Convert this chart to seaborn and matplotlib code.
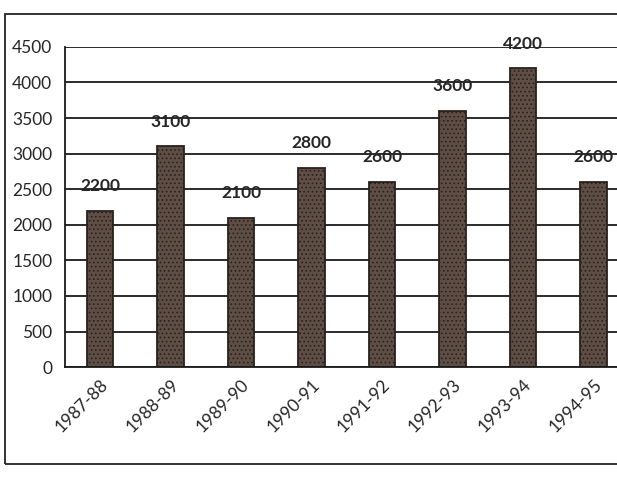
import matplotlib
matplotlib.use("Agg")
import matplotlib.pyplot as plt
import matplotlib.patches as patches
import numpy as np
import pandas as pd
import seaborn as sns

# Dane
years = ["1987-88", "1988-89", "1989-90", "1990-91", "1991-92", "1992-93", "1993-94", "1994-95"]
values = [2200, 3100, 2100, 2800, 2600, 3600, 4200, 2600]
y_ticks = [0, 500, 1000, 1500, 2000, 2500, 3000, 3500, 4000, 4500]

sns.set_style("white")
plt.rcParams['font.family'] = ['Lato', 'DejaVu Sans']
plt.rcParams['hatch.color'] = '#c9baa8'
plt.rcParams['hatch.linewidth'] = 0.7

data = pd.DataFrame({'year': years, 'value': values})

fig = plt.figure(figsize=(6.17, 4.78), dpi=100)
ax = fig.add_axes([0.105, 0.232, 0.914, 0.670])

sns.barplot(data=data, x='year', y='value', color='#5e4e45', width=0.37,
            edgecolor='#2a211c', linewidth=1.3, saturation=1, ax=ax)
for bar in ax.patches:
    bar.set_hatch('....')

ax.set_ylim(0, 4500)
ax.set_xlim(-0.5, len(years) - 0.5)
ax.set_yticks(y_ticks)
ax.yaxis.grid(True, color='#1a1a1a', linewidth=1.3)
ax.set_axisbelow(True)
ax.set_xlabel('')
ax.set_ylabel('')

for side in ['top', 'right']:
    ax.spines[side].set_visible(False)
ax.spines['left'].set_color('#1a1a1a')
ax.spines['bottom'].set_color('#1a1a1a')
ax.spines['left'].set_linewidth(1.3)
ax.spines['bottom'].set_linewidth(1.3)

ax.tick_params(axis='y', length=8, width=1.3, color='#1a1a1a', labelsize=12.5, pad=1)
ax.tick_params(axis='x', which='major', length=0, labelsize=12.5, pad=7)
ax.set_xticks(np.arange(len(years) + 1) - 0.5, minor=True)
ax.tick_params(axis='x', which='minor', length=6, width=1.3, color='#1a1a1a')
plt.setp(ax.get_xticklabels(), rotation=45, ha='right', rotation_mode='anchor')

ax.bar_label(ax.containers[0], labels=[str(v) for v in values],
             fontweight='bold', fontsize=12.5, padding=12)

# Ramka wokół wykresu
frame = patches.Rectangle((0.008, 0.03), 1.1, 0.94, transform=fig.transFigure,
                          fill=False, edgecolor='#222222', linewidth=1.3)
fig.patches.append(frame)

fig.savefig('out.png', dpi=100)
